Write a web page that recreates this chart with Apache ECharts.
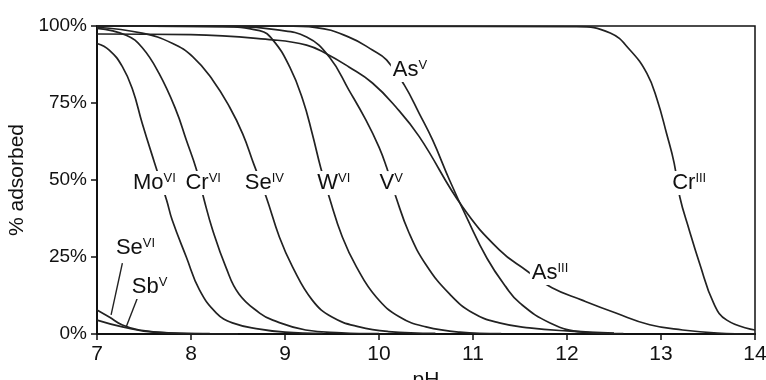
<!DOCTYPE html>
<html>
<head>
<meta charset="utf-8">
<script src="https://cdn.jsdelivr.net/npm/echarts@6/dist/echarts.min.js"></script>
<style>
  html, body { margin: 0; padding: 0; background: #fff; }
  #chart { width: 766px; height: 380px; }
</style>
</head>
<body>
<div id="chart"></div>
<script>
// Sorption edges: % adsorbed versus pH for each oxyanion / cation.
const phTicks = [7, 8, 9, 10, 11, 12, 13, 14];
const pctTicks = [0, 25, 50, 75, 100];

const moVI = [[7, 94.3], [7.13, 92.2], [7.27, 86.8], [7.38, 79.2], [7.48, 68.5], [7.61, 55.8], [7.74, 43.5], [7.8, 37], [7.95, 25], [8.09, 14.3], [8.27, 6.8], [8.44, 3.6], [8.73, 1.6], [9.0, 0.6], [9.4, 0.2]];
const crVI = [[7, 99.2], [7.31, 97], [7.48, 93], [7.66, 84.6], [7.84, 72.7], [7.95, 63], [8.06, 53.2], [8.14, 43.5], [8.23, 33.8], [8.37, 21.8], [8.51, 13], [8.73, 6.8], [8.87, 4.5], [9.22, 1.3], [9.6, 0.4], [10, 0.1]];
const seIV = [[7, 99.6], [7.48, 97.7], [7.8, 94.4], [8.02, 90], [8.23, 82.5], [8.41, 73.7], [8.55, 65], [8.67, 55], [8.8, 44.5], [8.94, 31.5], [9.08, 21.8], [9.29, 11], [9.5, 5.5], [9.79, 2.3], [10.1, 0.8], [10.6, 0.2]];
const wVI = [[7, 100], [8.3, 99.8], [8.73, 98.5], [8.87, 95.5], [9.05, 86.7], [9.19, 76], [9.29, 65], [9.38, 54], [9.47, 44.5], [9.61, 31.5], [9.76, 21.8], [9.97, 12], [10.22, 5.5], [10.5, 2.3], [10.86, 0.6], [11.3, 0.1]];
const vV = [[7, 100], [8.5, 99.8], [8.9, 98.8], [9.23, 96.4], [9.47, 90], [9.68, 79.2], [9.86, 69.5], [10.0, 60.7], [10.08, 54.2], [10.18, 44.5], [10.32, 32.8], [10.5, 22.5], [10.75, 13], [11.0, 6.8], [11.28, 3.6], [11.6, 2], [12, 1], [12.5, 0.3]];
const asV = [[7, 100], [9.0, 100], [9.33, 99.5], [9.68, 96.4], [9.93, 92.2], [10.08, 89], [10.27, 80.8], [10.43, 71.5], [10.57, 63], [10.75, 50], [10.93, 38], [11.15, 24.5], [11.35, 15.3], [11.5, 10], [11.82, 3.6], [12.17, 0.6], [12.6, 0.1]];
const asIII = [[7, 97.4], [8, 97.2], [8.87, 95.5], [9.23, 93.8], [9.44, 91], [9.68, 86.7], [9.93, 81.5], [10.18, 73.7], [10.43, 64], [10.89, 41.2], [11.28, 27.3], [11.56, 20.8], [11.84, 15], [12.16, 11], [12.52, 6.8], [12.88, 3], [13.23, 1.3], [13.6, 0.3], [14, 0]];
const crIII = [[7, 100], [12.1, 99.8], [12.46, 97.7], [12.67, 92.2], [12.85, 84.6], [12.96, 76], [13.06, 65], [13.14, 55.5], [13.2, 44.5], [13.3, 33.8], [13.41, 23], [13.56, 10], [13.7, 4.5], [14, 1.3]];
const seVI = [[7, 7.8], [7.13, 5.5], [7.27, 2.9], [7.45, 1.3], [7.8, 0.3], [8.5, 0]];
const sbV = [[7, 4.5], [7.27, 2.3], [7.6, 0.6], [8.2, 0.1]];

const curves = [moVI, crVI, seIV, wVI, vV, asV, asIII, crIII, seVI, sbV];

// Species labels: element, oxidation state, and anchor (pH, %)
const labelElement = ['Mo', 'Cr', 'Se', 'W', 'V', 'As', 'As', 'Cr', 'Se', 'Sb'];
const labelCharge = ['VI', 'VI', 'IV', 'VI', 'V', 'V', 'III', 'III', 'VI', 'V'];
const labelPH = [7.61, 8.13, 8.78, 9.52, 10.13, 10.33, 11.82, 13.3, 7.41, 7.56];
const labelPct = [49, 49, 49, 49, 49, 85.7, 19.8, 49, 27.9, 15.3];

// Leader lines from the Se(VI) and Sb(V) labels down to their curves
const leaderSeVI = [[7.27, 23], [7.15, 6.2]];
const leaderSbV = [[7.43, 11.7], [7.31, 2.3]];

const FONT = '"Liberation Sans", Arial, Helvetica, sans-serif';
const INK = '#111';
const LINE = '#222';

const chart = echarts.init(document.getElementById('chart'));

const curveSeries = curves.map(function (pts) {
  return {
    type: 'line',
    data: pts,
    showSymbol: false,
    smooth: 0.45,
    lineStyle: { color: LINE, width: 1.7 },
    z: 2,
    silent: true
  };
});

const leaderSeries = [leaderSeVI, leaderSbV].map(function (pts) {
  return {
    type: 'line',
    data: pts,
    showSymbol: false,
    lineStyle: { color: LINE, width: 1.4 },
    z: 2,
    silent: true
  };
});

const labelSeries = {
  type: 'scatter',
  symbolSize: 0,
  z: 5,
  silent: true,
  itemStyle: { opacity: 1 },
  data: labelElement.map(function (el, i) {
    return {
      value: [labelPH[i], labelPct[i]],
      label: {
        show: true,
        position: 'inside',
        formatter: '{b|' + el + '}{s|' + labelCharge[i] + '}',
        backgroundColor: '#fff',
        padding: [1, 2, 1, 2],
        rich: {
          b: { fontFamily: FONT, fontSize: 22, color: INK, lineHeight: 22 },
          s: { fontFamily: FONT, fontSize: 13, color: INK, verticalAlign: 'top', lineHeight: 14 }
        }
      }
    };
  })
};

chart.setOption({
  animation: false,
  backgroundColor: '#fff',
  grid: {
    left: 97, right: 11, top: 26, bottom: 46,
    outerBoundsMode: 'none',
    containLabel: false,
    show: true, borderColor: '#111', borderWidth: 1.5, backgroundColor: 'transparent'
  },
  xAxis: {
    type: 'value',
    min: phTicks[0],
    max: phTicks[phTicks.length - 1],
    interval: 1,
    name: 'pH',
    nameLocation: 'middle',
    nameGap: 22,
    nameTextStyle: { fontFamily: FONT, fontSize: 21, color: INK },
    axisLine: { lineStyle: { color: '#111', width: 2 } },
    axisTick: { show: true, length: 6, lineStyle: { color: '#111', width: 1.5 } },
    axisLabel: { fontFamily: FONT, fontSize: 21, color: INK, margin: 10 },
    splitLine: { show: false }
  },
  yAxis: {
    type: 'value',
    min: pctTicks[0],
    max: pctTicks[pctTicks.length - 1],
    interval: 25,
    name: '% adsorbed',
    nameLocation: 'middle',
    nameRotate: 90,
    nameGap: 57,
    nameTextStyle: { fontFamily: FONT, fontSize: 21, color: INK },
    axisLine: { show: true, lineStyle: { color: '#111', width: 2 } },
    axisTick: { show: true, length: 6, lineStyle: { color: '#111', width: 1.5 } },
    axisLabel: { fontFamily: FONT, fontSize: 19, color: INK, margin: 10, formatter: '{value}%' },
    splitLine: { show: false }
  },
  series: curveSeries.concat(leaderSeries, [labelSeries])
});
</script>
</body>
</html>
